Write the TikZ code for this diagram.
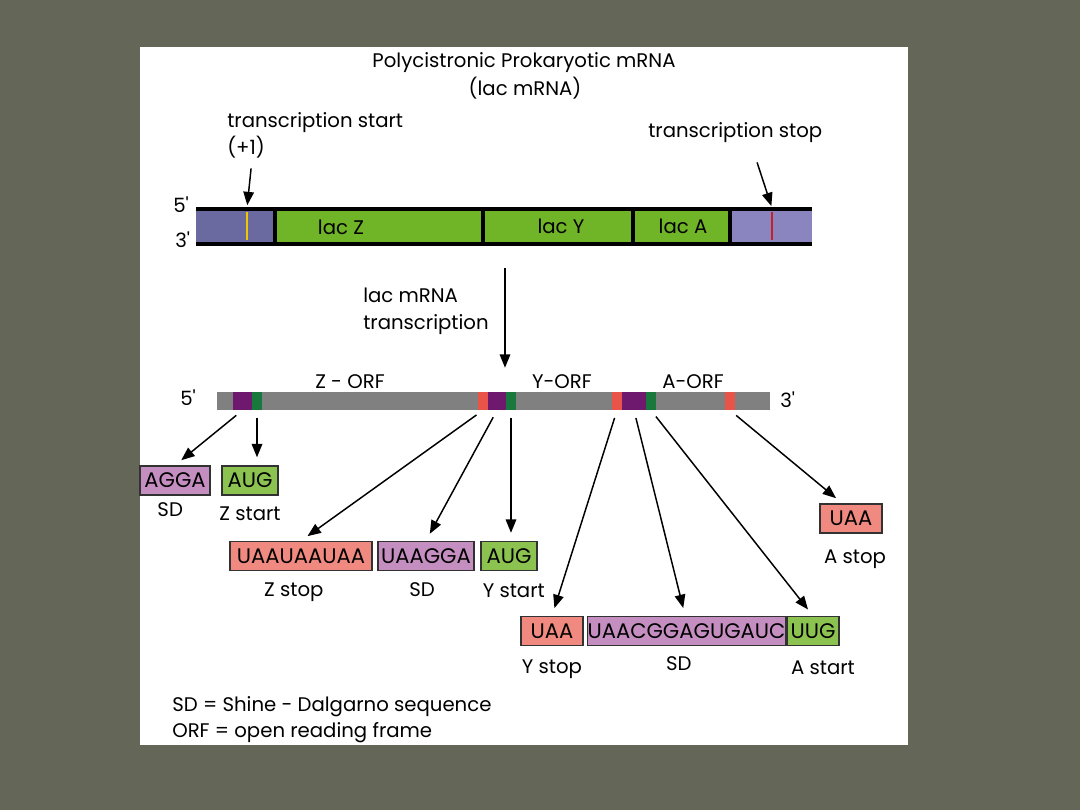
\documentclass[tikz,border=0pt]{standalone}
\usepackage{fontspec}
\setmainfont{Poppins}
\usepackage{tikz}
\usetikzlibrary{arrows.meta, positioning, calc}
\definecolor{slidebg}{RGB}{100,102,88}
\definecolor{dnablue}{RGB}{106,106,160}
\definecolor{dnablue2}{RGB}{138,133,190}
\definecolor{genegreen}{RGB}{112,180,40}
\definecolor{markyellow}{RGB}{240,200,0}
\definecolor{markred}{RGB}{200,30,40}
\definecolor{rnagray}{RGB}{128,128,128}
\definecolor{stopred}{RGB}{232,85,72}
\definecolor{sdpurple}{RGB}{110,25,110}
\definecolor{startgreen}{RGB}{25,120,60}
\definecolor{stoplight}{RGB}{240,138,128}
\definecolor{sdlight}{RGB}{196,143,192}
\definecolor{startlight}{RGB}{140,195,80}
\definecolor{boxline}{RGB}{50,50,50}
\newcommand{\prm}{\textquotesingle}
\tikzset{
  arr/.style={-{Triangle[length=9.5pt,width=7.5pt]}, line width=1.05pt,
    shorten <=0.2cm, shorten >=0.2cm},
  codon/.style={rectangle, draw=boxline, line width=1pt, minimum height=0.725cm,
    inner sep=0pt, font=\fontsize{15}{17}\selectfont},
  stopbox/.style={codon, fill=stoplight},
  sdbox/.style={codon, fill=sdlight},
  startbox/.style={codon, fill=startlight},
  lbl/.style={inner sep=0pt, text height=10pt, text depth=3pt,
    font=\fontsize{14}{16}\selectfont},
  seg/.style={rectangle, inner sep=0pt, minimum height=0.45cm},
}
\begin{document}
\begin{tikzpicture}[x=0.025cm, y=-0.025cm]
  \useasboundingbox (0,0) rectangle (1080,810);
  \fill[slidebg] (0,0) rectangle (1080,810);
  \fill[white] (140,47) rectangle (908,745);

  % title
  \node[lbl, anchor=base] (title) at (524,67) {Polycistronic Prokaryotic mRNA};
  \node[lbl, anchor=base] (subtitle) at (525,95) {(lac mRNA)};

  % DNA with the three genes
  \fill[dnablue] (196,208) rectangle (275,244);
  \fill[genegreen] (275,208) rectangle (730,244);
  \fill[dnablue2] (730,208) rectangle (812,244);
  \draw[line width=2.85pt] (196,208.5) -- (812,208.5) (196,243.5) -- (812,243.5);
  \foreach \x in {275,482.5,632.5,730}
    \draw[line width=2.85pt] (\x,208) -- (\x,244);
  \draw[markyellow, line width=1.4pt] (247,212) -- (247,240);
  \draw[markred, line width=1.4pt] (772,212) -- (772,240);
  \coordinate (tsmark) at (247,208);
  \coordinate (tpmark) at (772,208);
  \coordinate (dnabot) at (505,244);

  \node[lbl, anchor=base] (lacz) at (341,234) {lac Z};
  \node[lbl, anchor=base] (lacy) at (561,233) {lac Y};
  \node[lbl, anchor=base] (laca) at (683,233) {lac A};
  \node[lbl, anchor=base west] (dnafive) at (173,212) {5\prm};
  \node[lbl, anchor=base west] (dnathree) at (175,247) {3\prm};

  \node[lbl, anchor=base west] (tstart) at (227,127) {transcription start};
  \node[lbl, anchor=base west] (plusone) at (227,154) {(+1)};
  \node[lbl, anchor=base west] (tstop) at (648,137) {transcription stop};
  \draw[arr, shorten <=0.25cm, shorten >=0.07cm] ([xshift=0.15cm]plusone.south) -- (tsmark);
  \draw[arr, shorten <=0.55cm, shorten >=0.05cm] ([xshift=0.375cm]tstop.south) -- (tpmark);

  % mRNA
  \node[seg, fill=rnagray, minimum width=13.825cm] (mrna) at (493.5,401) {};
  \node[seg, fill=sdpurple, minimum width=0.475cm] (zsd) at (242.5,401) {};
  \node[seg, fill=startgreen, minimum width=0.25cm] (zstartm) at (257,401) {};
  \node[seg, fill=stopred, minimum width=0.25cm] (zstopm) at (483,401) {};
  \node[seg, fill=sdpurple, minimum width=0.45cm] (ysd) at (497,401) {};
  \node[seg, fill=startgreen, minimum width=0.25cm] (ystartm) at (511,401) {};
  \node[seg, fill=stopred, minimum width=0.25cm] (ystopm) at (617,401) {};
  \node[seg, fill=sdpurple, minimum width=0.6cm] (asd) at (634,401) {};
  \node[seg, fill=startgreen, minimum width=0.25cm] (astartm) at (651,401) {};
  \node[seg, fill=stopred, minimum width=0.25cm] (astopm) at (730,401) {};

  \draw[arr, shorten <=0.6cm, shorten >=0.6cm] (dnabot) -- (dnabot |- mrna.north);
  \node[lbl, anchor=base west] (mrnalbl) at (363,302) {lac mRNA};
  \node[lbl, anchor=base west] (mrnalbl2) at (363,329) {transcription};

  \node[lbl, anchor=base] (zorf) at (350,388) {Z - ORF};
  \node[lbl, anchor=base] (yorf) at (562,388) {Y-ORF};
  \node[lbl, anchor=base] (aorf) at (693,388) {A-ORF};
  \node[lbl, anchor=base west] (rnafive) at (180,405) {5\prm};
  \node[lbl, anchor=base west] (rnathree) at (780,407) {3\prm};

  % codon boxes
  \node[sdbox, minimum width=1.75cm] (sdz) at (175,480.5) {AGGA};
  \node[startbox, minimum width=1.4cm] (zaug) at (250,480.5) {AUG};
  \node[stopbox, minimum width=3.55cm] (zstop) at (301,556) {UAAUAAUAA};
  \node[sdbox, minimum width=2.4cm] (sdy) at (426,556) {UAAGGA};
  \node[startbox, minimum width=1.4cm] (yaug) at (509,556) {AUG};
  \node[stopbox, minimum width=1.55cm] (ystop) at (552,631) {UAA};
  \node[sdbox, minimum width=4.875cm] (sda) at (686.5,631) {UAACGGAGUGAUC};
  \node[startbox, minimum width=1.3cm] (auug) at (813,631) {UUG};
  \node[stopbox, minimum width=1.55cm] (astop) at (851,518.5) {UAA};

  \node[lbl, below=0.17cm of sdz, xshift=-0.12cm] (sdzl) {SD};
  \node[lbl, below=0.27cm of zaug] (zaugl) {Z start};
  \node[lbl, below=0.27cm of zstop, xshift=-0.18cm] (zstopl) {Z stop};
  \node[lbl, below=0.27cm of sdy, xshift=-0.1cm] (sdyl) {SD};
  \node[lbl, below=0.29cm of yaug, xshift=0.12cm] (yaugl) {Y start};
  \node[lbl, below=0.32cm of ystop] (ystopl) {Y stop};
  \node[lbl, below=0.24cm of sda, xshift=-0.19cm] (sdal) {SD};
  \node[lbl, below=0.34cm of auug, xshift=0.25cm] (auugl) {A start};
  \node[lbl, below=0.38cm of astop, xshift=0.1cm] (astopl) {A stop};

  \draw[arr] (zsd.south) -- (sdz.north);
  \draw[arr] (zstartm.south) -- (zstartm.south |- zaug.north);
  \draw[arr] (zstopm.south) -- (zstop.north);
  \draw[arr] (ysd.south) -- (sdy.north);
  \draw[arr] (ystartm.south) -- (ystartm.south |- yaug.north);
  \draw[arr] (ystopm.south) -- (ystop.north);
  \draw[arr] (asd.south) -- (sda.95);
  \draw[arr] (astartm.south) -- (auug.north);
  \draw[arr] (astopm.south) -- (astop.120);

  % legend
  \node[lbl, anchor=base west] (legsd) at (172,711) {SD = Shine - Dalgarno sequence};
  \node[lbl, anchor=base west] (legorf) at (172,737) {ORF = open reading frame};
\end{tikzpicture}
\end{document}
